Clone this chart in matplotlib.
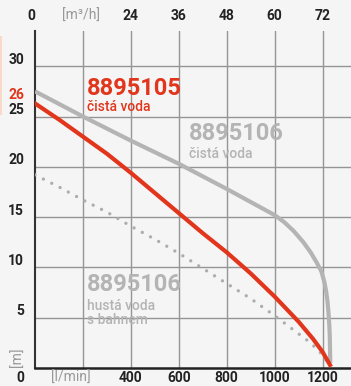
import matplotlib
matplotlib.use("Agg")
import matplotlib.pyplot as plt
from matplotlib.patches import Rectangle
import matplotlib.transforms as mtransforms

# Pump performance curves: flow Q [l/min] vs. head H [m]
flow_ticks = [0, 200, 400, 600, 800, 1000, 1200]
bottom_labels = ["", "[l/min]", "400", "600", "800", "1000", "1200"]
top_labels = ["0", "[m\u00b3/h]", "24", "36", "48", "60", "72"]
head_ticks = [5, 10, 15, 20, 25, 30]

# 8895105, clean water
q_5105 = [0, 100, 200, 300, 400, 500, 600, 700, 800, 900, 1000, 1100, 1160, 1200, 1231]
h_5105 = [26.3, 24.7, 23.0, 21.3, 19.4, 17.4, 15.4, 13.4, 11.5, 9.4, 7.1, 4.6, 2.9, 1.6, 0.3]

# 8895106, clean water
q_5106_clean = [0, 200, 400, 600, 800, 900, 1000, 1040, 1080, 1120, 1150, 1175,
                1195, 1207, 1215, 1221, 1225, 1228, 1230, 1231, 1232]
h_5106_clean = [27.5, 25.0, 22.6, 20.3, 17.8, 16.5, 15.2, 14.5, 13.6, 12.5, 11.5, 10.5,
                9.6, 8.6, 7.6, 6.5, 5.4, 4.3, 3.2, 2.0, 0.5]

# 8895106, thick water with sludge
q_5106_sludge = [0, 100, 200, 300, 400, 500, 600, 700, 800, 900, 1000, 1100, 1150, 1200, 1220]
h_5106_sludge = [19.2, 18.0, 16.7, 15.5, 14.1, 12.8, 11.4, 9.9, 8.4, 6.9, 5.2, 3.4, 2.5, 1.3, 0.6]

BG = "#f5f5f5"
RED = "#e2361c"
GREY = "#b4b4b4"
GRID = "#959595"
DARK = "#222222"
FONT = "Roboto"

W, H = 351, 386
fig = plt.figure(figsize=(W / 100, H / 100), dpi=100, facecolor=BG)
# axes box in pixels: left 35, right 351, top 31, bottom 368
ax = fig.add_axes([35 / W, 18 / H, 316 / W, 337 / H], facecolor=BG)
ax.set_xlim(0, 316 / 0.23965)
ax.set_ylim(0, 337 / 10.06)

# grid
for q in flow_ticks[1:]:
    ax.axvline(q, color=GRID, lw=1.0, zorder=1)
for h in head_ticks:
    ax.axhline(h, color=GRID, lw=1.0, zorder=1)

for s in ("top", "right"):
    ax.spines[s].set_visible(False)
ax.spines["left"].set_color("#333333")
ax.spines["left"].set_linewidth(1.5)
ax.spines["bottom"].set_color(DARK)
ax.spines["bottom"].set_linewidth(1.8)
ax.set_xticks([])
ax.set_yticks([])

# curves
ax.plot(q_5106_sludge, h_5106_sludge, color="#adadad", lw=2.4,
        linestyle=(0, (0.01, 2.8)), dash_capstyle="round", zorder=3)
ax.plot(q_5106_clean, h_5106_clean, color=GREY, lw=3.0, zorder=4,
        solid_joinstyle="round", solid_capstyle="butt")
ax.plot(q_5105, h_5105, color=RED, lw=3.0, zorder=5, solid_joinstyle="round")

# curve labels
ax.text(217, 27.1, "8895105", color=RED, fontsize=17, fontweight="bold",
        family=FONT, va="baseline", ha="left", zorder=6)
ax.text(217, 25.55, "čistá voda", color=RED, fontsize=10, fontweight="medium",
        family=FONT, va="baseline", ha="left", zorder=6)
ax.text(643, 22.66, "8895106", color=GREY, fontsize=17, fontweight="bold",
        family=FONT, va="baseline", ha="left", zorder=6)
ax.text(643, 20.85, "čistá voda", color=GREY, fontsize=10, fontweight="medium",
        family=FONT, va="baseline", ha="left", zorder=6)
ax.text(217, 7.69, "8895106", color=GREY, fontsize=17, fontweight="bold",
        family=FONT, va="baseline", ha="left", zorder=6)
ax.text(217, 5.77, "hustá voda", color=GREY, fontsize=10, fontweight="medium",
        family=FONT, va="baseline", ha="left", zorder=6)
ax.text(217, 4.37, "s bahnem", color=GREY, fontsize=10, fontweight="medium",
        family=FONT, va="baseline", ha="left", zorder=6)

# axis labels
xtr = ax.get_xaxis_transform()
for q, lab in zip(flow_ticks, bottom_labels):
    if not lab:
        continue
    unit = lab.startswith("[")
    ax.text(148 if unit else q, -10 / 337, lab, transform=xtr,
            ha="center", va="center", fontsize=10, family=FONT,
            fontweight="normal" if unit else "bold",
            color="#999999" if unit else DARK, clip_on=False)
for q, lab in zip(flow_ticks, top_labels):
    unit = lab.startswith("[")
    xq = 190 if unit else (q if q else -4 / 0.23965)
    ax.text(xq, 1 + 15 / 337, lab, transform=xtr,
            ha="center", va="center", fontsize=10, family=FONT,
            fontweight="normal" if unit else "bold",
            color="#999999" if unit else DARK, clip_on=False)

ytr = mtransforms.offset_copy(ax.get_yaxis_transform(), fig=fig, x=0, y=2.5, units="dots")
for h in head_ticks:
    ax.text(-11 / 316, h, str(h), transform=ytr, ha="right", va="baseline",
            fontsize=10, family=FONT, fontweight="bold", color=DARK, clip_on=False)
ax.text(-11 / 316, 26.7, "26", transform=ax.get_yaxis_transform(), ha="right",
        va="baseline", fontsize=10, family=FONT, fontweight="bold", color=RED,
        clip_on=False)
ax.text(-11 / 316, -10 / 10.06, "0", transform=ax.get_yaxis_transform(), ha="right",
        va="center", fontsize=10, family=FONT, fontweight="bold", color=DARK,
        clip_on=False)
ax.text(-17.5 / 316, 1.1, "[m]", transform=ax.get_yaxis_transform(), ha="center",
        va="center", rotation=90, fontsize=10, family=FONT, color="#999999",
        clip_on=False)

# thin accent strip at the left edge
fig.patches.append(Rectangle((0, (H - 115) / H), 1.5 / W, 79 / H,
                             transform=fig.transFigure, facecolor="#fbd9c8",
                             edgecolor="none"))

fig.savefig("out.png", dpi=100, facecolor=BG)
